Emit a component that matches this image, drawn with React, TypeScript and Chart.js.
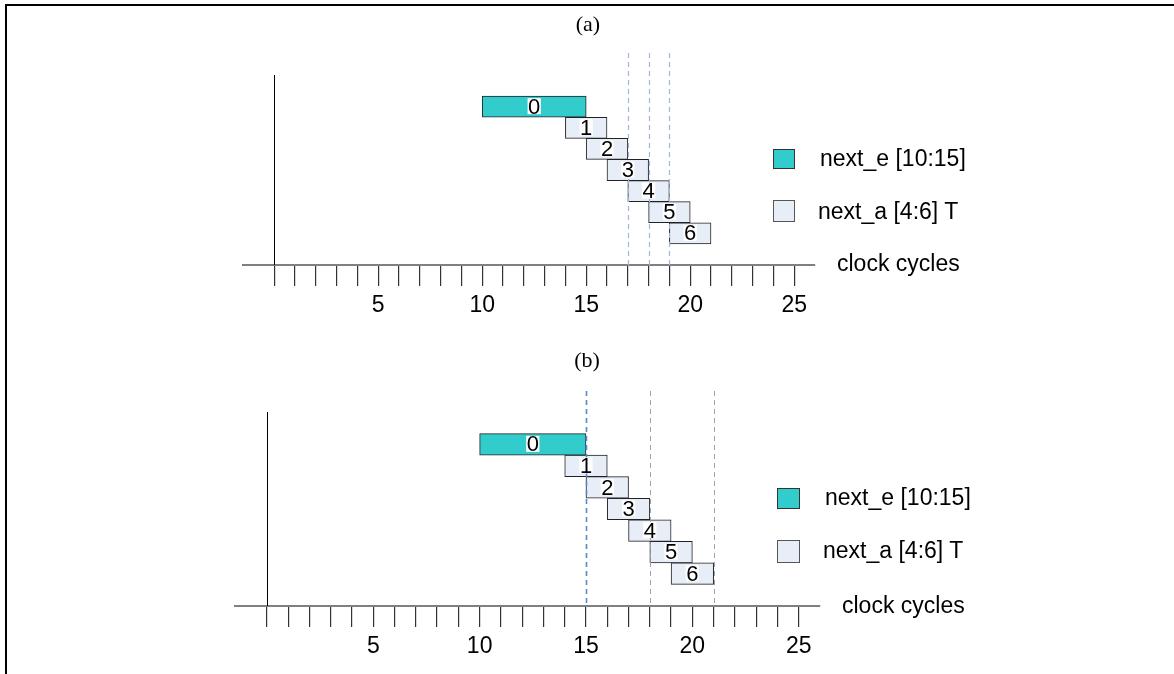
import React, { useEffect, useRef } from 'react';
import { Chart, registerables } from 'chart.js';

Chart.register(...registerables);

// ---------- data ----------
const rowLabels = ['', '0', '1', '2', '3', '4', '5', '6', ''];
const nextE: (number[] | null)[] = [null, [10, 15], null, null, null, null, null, null, null];
const nextA: (number[] | null)[] = [null, null, [14, 16], [15, 17], [16, 18], [17, 19], [18, 20], [19, 21], null];
const barText = ['', '0', '1', '2', '3', '4', '5', '6', ''];
const tickValues = [0, 1, 2, 3, 4, 5, 6, 7, 8, 9, 10, 11, 12, 13, 14, 15, 16, 17, 18, 19, 20, 21, 22, 23, 24, 25];
const labelledTicks = [5, 10, 15, 20, 25];
const markersA = [17, 18, 19];
const markersB = [15, 18, 21];
const seriesNames = ['next_e [10:15]', 'next_a [4:6] T'];
const axisTitle = 'clock cycles';
const panelTitles = ['(a)', '(b)'];
const xMin = -1.5;
const xMax = 26;

const SANS = "'Liberation Sans', Arial, sans-serif";
const SERIF = "'Liberation Serif', 'Times New Roman', serif";
const TEAL = '#33cccc';
const LIGHT = '#e8eef8';

type MarkerStyle = { color: string; width: number };

interface PanelCfg {
  top: number;
  height: number;
  padding: { left: number; right: number; top: number; bottom: number };
  axisH: number;
  markers: number[];
  markerStyles: MarkerStyle[];
  markerTop: number;
}

const panels: PanelCfg[] = [
  {
    top: 0,
    height: 337,
    padding: { left: 243, right: 1174 - 815, top: 75, bottom: 0 },
    axisH: 72,
    markers: markersA,
    markerStyles: [
      { color: '#9fb6df', width: 1.2 },
      { color: '#9fb6df', width: 1.2 },
      { color: '#9fb6df', width: 1.2 },
    ],
    markerTop: 53,
  },
  {
    top: 337,
    height: 337,
    padding: { left: 235, right: 1174 - 820, top: 75, bottom: 0 },
    axisH: 68,
    markers: markersB,
    markerStyles: [
      { color: '#5a88d0', width: 1.6 },
      { color: '#9aa3b5', width: 1 },
      { color: '#9aa3b5', width: 1 },
    ],
    markerTop: 54,
  },
];

function makeOverlay(cfg: PanelCfg) {
  return {
    id: 'overlay',
    beforeDatasetsDraw(chart: any) {
      const { ctx, chartArea, scales } = chart;
      const x = scales.x;
      const x0 = Math.round(x.getPixelForValue(0)) + 0.5;
      ctx.save();
      ctx.strokeStyle = '#000';
      ctx.lineWidth = 1;
      ctx.beginPath();
      ctx.moveTo(x0, chartArea.top);
      ctx.lineTo(x0, chartArea.bottom);
      ctx.stroke();
      ctx.restore();
    },
    afterDatasetsDraw(chart: any) {
      const { ctx, chartArea, scales } = chart;
      const x = scales.x;
      ctx.save();
      cfg.markers.forEach((m, i) => {
        const st = cfg.markerStyles[i];
        const px = Math.round(x.getPixelForValue(m)) + 0.5;
        ctx.strokeStyle = st.color;
        ctx.lineWidth = st.width;
        ctx.setLineDash([5, 4]);
        ctx.beginPath();
        ctx.moveTo(px, cfg.markerTop);
        ctx.lineTo(px, chartArea.bottom);
        ctx.stroke();
      });
      ctx.setLineDash([]);
      // bar labels
      ctx.font = `22px ${SANS}`;
      ctx.textAlign = 'center';
      ctx.textBaseline = 'middle';
      chart.data.datasets.forEach((ds: any, di: number) => {
        const meta = chart.getDatasetMeta(di);
        meta.data.forEach((el: any, idx: number) => {
          if (ds.data[idx] == null) return;
          const txt = barText[idx];
          if (!txt) return;
          const cx = (el.x + el.base) / 2;
          const cy = el.y;
          const w = ctx.measureText(txt).width + 1;
          ctx.fillStyle = '#fff';
          ctx.fillRect(cx - w / 2, cy - 8.5, w, 16);
          ctx.fillStyle = '#000';
          ctx.fillText(txt, cx, cy + 1);
        });
      });
      ctx.restore();
    },
  };
}

function Panel({ cfg }: { cfg: PanelCfg }) {
  const ref = useRef<HTMLCanvasElement | null>(null);
  useEffect(() => {
    if (!ref.current) return;
    const chart = new Chart(ref.current, {
      type: 'bar',
      data: {
        labels: rowLabels,
        datasets: [
          {
            label: seriesNames[0],
            data: nextE as any,
            backgroundColor: TEAL,
            borderColor: '#222',
            borderWidth: 1,
            borderSkipped: false,
            grouped: false,
            barPercentage: 1,
            categoryPercentage: 1,
          },
          {
            label: seriesNames[1],
            data: nextA as any,
            backgroundColor: LIGHT,
            borderColor: '#222',
            borderWidth: 1,
            borderSkipped: false,
            grouped: false,
            barPercentage: 1,
            categoryPercentage: 1,
          },
        ],
      },
      options: {
        responsive: false,
        animation: false,
        indexAxis: 'y',
        devicePixelRatio: 1,
        layout: { padding: cfg.padding },
        plugins: {
          legend: { display: false },
          tooltip: { enabled: false },
          title: { display: false },
        },
        scales: {
          x: {
            type: 'linear',
            min: xMin,
            max: xMax,
            position: 'bottom',
            afterBuildTicks: (s: any) => {
              s.ticks = tickValues.map((v) => ({ value: v }));
            },
            afterFit: (s: any) => {
              s.height = cfg.axisH;
            },
            grid: {
              drawOnChartArea: false,
              drawTicks: true,
              tickLength: 21,
              color: '#333',
              lineWidth: 1.2,
            },
            border: { display: true, color: '#808080', width: 2 },
            ticks: {
              autoSkip: false,
              maxRotation: 0,
              padding: 6,
              color: '#000',
              font: { size: 23, family: SANS },
              callback: (v: any) => (labelledTicks.includes(Number(v)) ? String(v) : ''),
            },
          },
          y: {
            type: 'category',
            display: false,
            offset: true,
          },
        },
      } as any,
      plugins: [makeOverlay(cfg)],
    });
    return () => chart.destroy();
  }, [cfg]);
  return (
    <canvas
      ref={ref}
      width={1174}
      height={cfg.height}
      style={{ position: 'absolute', left: 0, top: cfg.top, width: 1174, height: cfg.height }}
    />
  );
}

const textStyle: React.CSSProperties = {
  position: 'absolute',
  fontFamily: SANS,
  fontSize: 23,
  lineHeight: '26px',
  whiteSpace: 'nowrap',
  color: '#000',
};

function Legend({ swX, sw1Y, sw2Y, swW, swH, txtX, t1Y, t2Y, ccX, ccY }: any) {
  return (
    <>
      <div style={{ position: 'absolute', left: swX, top: sw1Y, width: swW, height: swH, background: TEAL, border: '1px solid #333', boxSizing: 'border-box' }} />
      <div style={{ ...textStyle, left: txtX, top: t1Y - 13 }}>{seriesNames[0]}</div>
      <div style={{ position: 'absolute', left: swX, top: sw2Y, width: swW, height: swH + 2, background: LIGHT, border: '1px solid #555', boxSizing: 'border-box' }} />
      <div style={{ ...textStyle, left: txtX - 2, top: t2Y - 13 }}>{seriesNames[1]}</div>
      <div style={{ ...textStyle, left: ccX, top: ccY - 13 }}>{axisTitle}</div>
    </>
  );
}

export default function App() {
  return (
    <div style={{ position: 'absolute', left: 0, top: 0, width: 1174, height: 674, background: '#fff', overflow: 'hidden' }}>
      <Panel cfg={panels[0]} />
      <Panel cfg={panels[1]} />
      <div style={{ position: 'absolute', left: 5, top: 4, width: 1169, height: 2, background: '#000' }} />
      <div style={{ position: 'absolute', left: 5, top: 4, width: 2, height: 670, background: '#000' }} />
      <div style={{ position: 'absolute', left: 488, width: 200, top: 11, textAlign: 'center', fontFamily: SERIF, fontSize: 22, lineHeight: '26px' }}>{panelTitles[0]}</div>
      <div style={{ position: 'absolute', left: 487, width: 200, top: 347, textAlign: 'center', fontFamily: SERIF, fontSize: 22, lineHeight: '26px' }}>{panelTitles[1]}</div>
      <Legend swX={773} sw1Y={149} sw2Y={200} swW={22} swH={20} txtX={820} t1Y={158} t2Y={211} ccX={837} ccY={263} />
      <Legend swX={777} sw1Y={488} sw2Y={540} swW={23} swH={21} txtX={825} t1Y={497} t2Y={550} ccX={842} ccY={605} />
    </div>
  );
}
